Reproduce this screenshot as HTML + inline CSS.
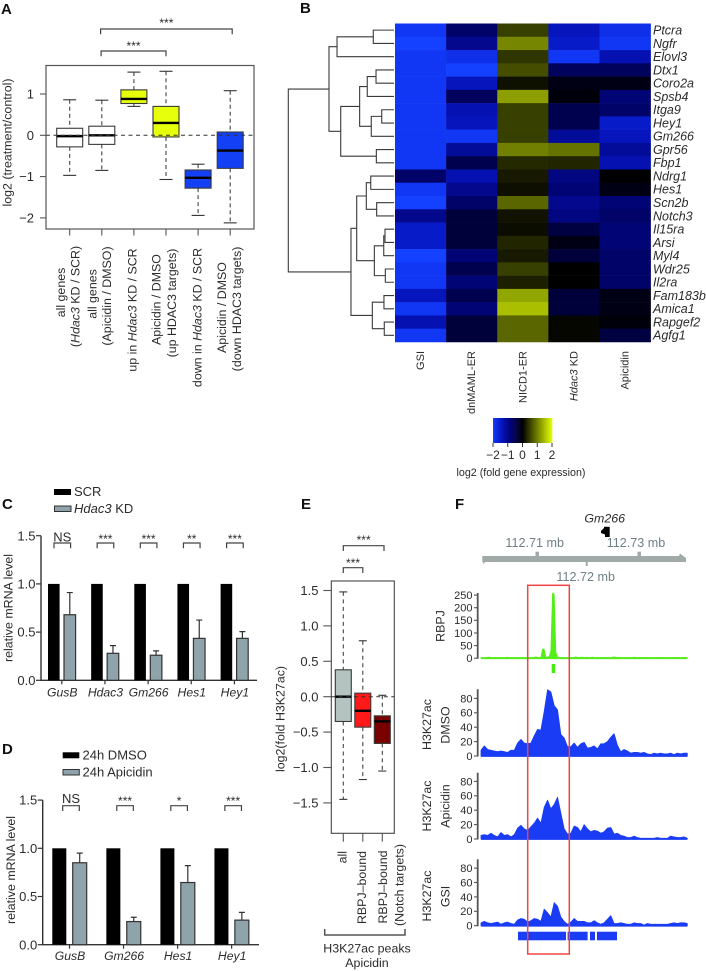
<!DOCTYPE html>
<html lang="en">
<head>
<meta charset="utf-8">
<title>Multi-panel figure</title>
<style>
html,body{margin:0;padding:0;background:#fff;width:706px;height:971px;overflow:hidden}
svg{display:block;filter:blur(0.3px)}
text{font-family:"Liberation Sans",sans-serif;fill:#2b2b2b}
.pl{font-size:15px;font-weight:bold;fill:#111}
.t12{font-size:12.4px}
.t13{font-size:13px}
.mb{font-size:12.6px;fill:#6f8088}
i,.it{font-style:italic}
</style>
</head>
<body>
<svg id="fig" xmlns="http://www.w3.org/2000/svg" width="706" height="971" viewBox="0 0 706 971">
<text class="pl" x="1" y="14">A</text>
<text class="pl" x="300" y="13">B</text>
<text class="pl" x="2" y="509">C</text>
<text class="pl" x="2" y="754">D</text>
<text class="pl" x="301" y="509">E</text>
<text class="pl" x="455" y="509">F</text>

<text class="t12" transform="translate(11.5 142.5) rotate(-90)" text-anchor="middle">log2 (treatment/control)</text>
<g class="t12" text-anchor="middle">
<text transform="translate(65 292.5) rotate(-90)">all genes</text>
<text transform="translate(79.3 296.5) rotate(-90)">(<tspan class="it">Hdac3</tspan> KD / SCR)</text>
<text transform="translate(96.7 294) rotate(-90)">all genes</text>
<text transform="translate(111 296) rotate(-90)">(Apicidin / DMSO)</text>
<text transform="translate(136.7 310) rotate(-90)">up in <tspan class="it">Hdac3</tspan> KD / SCR</text>
<text transform="translate(160.7 299.5) rotate(-90)">Apicidin / DMSO</text>
<text transform="translate(176 303) rotate(-90)">(up HDAC3 targets)</text>
<text transform="translate(201.7 317.5) rotate(-90)">down in <tspan class="it">Hdac3</tspan> KD / SCR</text>
<text transform="translate(226 307.5) rotate(-90)">Apicidin / DMSO</text>
<text transform="translate(241 309) rotate(-90)">(down HDAC3 targets)</text>
</g>

<text x="521" y="476" text-anchor="middle" font-size="10.7">log2 (fold gene expression)</text>

<rect x="54" y="489" width="17" height="6" fill="#000"/>
<text class="t13" x="74" y="496">SCR</text>
<rect x="54.5" y="506" width="16.5" height="5.5" fill="#8fa3aa" stroke="#333"/>
<text class="t13" x="74" y="513"><tspan class="it">Hdac3</tspan> KD</text>
<text class="t12" transform="translate(12.5 608) rotate(-90)" text-anchor="middle">relative mRNA level</text>

<rect x="62.7" y="752.3" width="16.6" height="6" fill="#000"/>
<text class="t13" x="82.5" y="759.5">24h DMSO</text>
<rect x="63" y="769.5" width="16.3" height="5.5" fill="#8fa3aa" stroke="#333"/>
<text class="t13" x="82.5" y="776.5">24h Apicidin</text>
<text class="t12" transform="translate(15 870) rotate(-90)" text-anchor="middle">relative mRNA level</text>

<text class="t12" transform="translate(284.5 719) rotate(-90)" text-anchor="middle">log2(fold H3K27ac)</text>
<text class="t12" transform="translate(346.7 851) rotate(-90)" text-anchor="end">all</text>
<text class="t12" transform="translate(366 851) rotate(-90)" text-anchor="end">RBPJ–bound</text>
<text class="t12" transform="translate(387 887) rotate(-90)" text-anchor="middle">RBPJ–bound</text>
<text class="t12" transform="translate(403.3 885) rotate(-90)" text-anchor="middle">(Notch targets)</text>
<path d="M324.7 929V935H405V929" fill="none" stroke="#555" stroke-width="1.5"/>
<text class="t12" x="367" y="952.7" text-anchor="middle">H3K27ac peaks</text>
<text class="t12" x="367" y="967" text-anchor="middle">Apicidin</text>

<text class="t12" transform="translate(444.5 626) rotate(-90)" text-anchor="middle">RBPJ</text>
<text class="t12" transform="translate(431 724.5) rotate(-90)" text-anchor="middle">H3K27ac</text>
<text class="t12" transform="translate(449.5 725) rotate(-90)" text-anchor="middle">DMSO</text>
<text class="t12" transform="translate(431 806) rotate(-90)" text-anchor="middle">H3K27ac</text>
<text class="t12" transform="translate(449.5 806) rotate(-90)" text-anchor="middle">Apicidin</text>
<text class="t12" transform="translate(431 896) rotate(-90)" text-anchor="middle">H3K27ac</text>
<text class="t12" transform="translate(449.5 896.5) rotate(-90)" text-anchor="middle">GSI</text>

<text class="t12 it" x="604.7" y="522.5" text-anchor="middle">Gm266</text>
<path d="M601 531L604 528V526.7H609.7V537H605V534.5L601 533Z" fill="#000"/>
<g>
<path d="M482.3 556H679L680 553.5L686 558V562H587.7V566H585.7V562H485L483.5 564L482.3 561Z" fill="#a0aba9"/>
<rect x="535.5" y="551.7" width="3.5" height="5" fill="#a0aba9"/>
<rect x="637.5" y="551.7" width="3.5" height="5" fill="#a0aba9"/>
<text class="mb" x="534.7" y="547.2" text-anchor="middle">112.71 mb</text>
<text class="mb" x="636" y="547.2" text-anchor="middle">112.73 mb</text>
<text class="mb" x="585.7" y="581.2" text-anchor="middle">112.72 mb</text>
</g>
<g id="g-a"></g>
<g id="g-b"></g>
<g id="g-c"></g>
<g id="g-d"></g>
<g id="g-e"></g>
<g id="g-f"></g>
</svg>

<script>
// ---- Panel A data ----
var boxATicks = [1, 0, -1, -2];
var boxAWhiskerHigh = [0.86, 0.85, 1.53, 1.55, -0.70, 1.08];
var boxAWhiskerLow = [-0.97, -0.85, 0.70, -1.07, -1.94, -2.12];
var boxAQ3 = [0.17, 0.22, 1.10, 0.70, -0.84, 0.08];
var boxAQ1 = [-0.28, -0.22, 0.77, -0.04, -1.28, -0.80];
var boxAMedian = [-0.02, 0.00, 0.88, 0.30, -1.03, -0.37];
var boxAColors = ["#ffffff", "#ffffff", "#e6ff0a", "#e6ff0a", "#1440f5", "#1440f5"];

// ---- Panel B data ----
var heatmapGenes = ["Ptcra","Ngfr","Elovl3","Dtx1","Coro2a","Spsb4","Itga9","Hey1","Gm266","Gpr56","Fbp1","Ndrg1","Hes1","Scn2b","Notch3","Il15ra","Arsi","Myl4","Wdr25","Il2ra","Fam183b","Amica1","Rapgef2","Agfg1"];
var heatmapConditions = ["GSI","dnMAML-ER","NICD1-ER","Hdac3 KD","Apicidin"];
var heatmapGSI = [-1.9,-2.0,-1.9,-1.9,-1.9,-1.9,-1.9,-1.9,-1.9,-1.9,-1.9,-0.7,-1.9,-2.0,-1.0,-1.5,-1.5,-2.0,-1.9,-1.9,-1.4,-1.9,-1.3,-1.9];
var heatmapDnMAML = [-0.7,-1.0,-1.8,-2.0,-1.4,-0.6,-1.3,-1.4,-1.9,-1.1,-0.5,-1.3,-1.0,-0.7,-0.35,-0.35,-0.35,-0.8,-0.5,-0.8,-0.5,-0.8,-0.35,-0.35];
var heatmapNICD1 = [0.5,1.05,0.42,0.6,0.13,1.25,0.5,0.5,0.5,1.0,0.32,0.2,0.12,0.8,0.15,0.1,0.3,0.2,0.5,0.25,1.3,1.5,0.8,0.8];
var heatmapHdac3 = [-1.4,-1.5,-1.9,-0.6,-0.1,-0.05,-0.5,-0.5,-1.1,0.9,0.3,-0.9,-0.8,-1.0,-0.9,-0.4,-0.1,-0.35,0,0,-0.35,-0.35,0.05,0.05];
var heatmapApicidin = [-1.8,-1.9,-1.3,-0.6,-0.1,-0.8,-0.7,-1.5,-1.4,-1.1,-1.3,0,-0.1,-0.8,-0.7,-0.8,-0.8,-0.7,-0.7,-0.7,-0.1,-0.1,-0.05,-0.4];
var colorbarTicks = [-2, -1, 0, 1, 2];
var dendrogramTree = [1.0,
  [0.615,[0.539,[0.196,0,1],2],[0.504,[0.325,[0.253,[0.17,3,4],5],[0.215,[0.116,6,7],8]],[0.167,9,10]]],
  [0.407,[0.353,[0.262,[0.22,11,12],[0.164,13,14]],[0.186,[0.097,[0.085,15,16],17],[0.082,18,19]]],[0.205,[0.095,20,21],[0.092,22,23]]]
];

// ---- Panel C data ----
var barCTicks = ["0.0", "0.5", "1.0", "1.5"];
var barCGenes = ["GusB", "Hdac3", "Gm266", "Hes1", "Hey1"];
var barCControl = [1, 1, 1, 1, 1];
var barCTreated = [0.68, 0.28, 0.26, 0.435, 0.435];
var barCError = [0.91, 0.36, 0.305, 0.625, 0.505];
var barCSig = ["NS", "***", "***", "**", "***"];

// ---- Panel D data ----
var barDGenes = ["GusB", "Gm266", "Hes1", "Hey1"];
var barDControl = [1, 1, 1, 1];
var barDTreated = [0.85, 0.24, 0.645, 0.255];
var barDError = [0.95, 0.285, 0.82, 0.335];
var barDSig = ["NS", "***", "*", "***"];

// ---- Panel E data ----
var boxETicks = [1.5, 1.0, 0.5, 0.0, -0.5, -1.0, -1.5];
var boxEWhiskerHigh = [1.48, 0.79, 0.02];
var boxEWhiskerLow = [-1.45, -1.17, -1.05];
var boxEQ3 = [0.38, 0.05, -0.27];
var boxEQ1 = [-0.35, -0.43, -0.66];
var boxEMedian = [0.0, -0.20, -0.35];
var boxEColors = ["#b3c4c0", "#ff1a1a", "#7a0000"];

// ---- Panel F data ----
var trackRBPJTicks = [0, 50, 100, 150, 200, 250];
var trackH3Ticks = [0, 20, 40, 60, 80];
var trackRBPJ = [2,3,2,2,3,4,3,2,3,2,3,2,3,2,2,3,4,2,3,2,3,2,2,3,2,3,2,2,3,2,3,2,3,5,3,2,3,36,34,3,5,6,30,258,252,24,4,3,2,3,2,2,3,2,3,2,3,5,3,2,3,4,2,3,3,2,3,4,3,2,3,2,3,3,2,3,2,3,2,4,5,3,3,2,3,2,3,2,2,3,2,3,4,3,2,3,2,3,2,3,2,3,2,3,2,2,3,2,3,2,3,2,3,2,2,3,2,3,2,3,2,2,3,3,2];
var trackDMSO = [8,14,9,8,7,6,7,6,5,8,8,18,23,18,17,18,28,37,36,62,92,89,70,64,30,25,13,13,18,12,17,19,11,12,14,10,17,17,20,26,31,15,6,9,7,4,5,5,4,5,3,2,4,3,4,3,3,4,2,4,3,4,4];
var trackApicidin = [5,6,5,8,5,3,9,5,6,3,6,15,19,14,12,17,22,29,22,44,54,42,48,58,36,14,7,8,18,16,10,20,14,10,12,11,8,10,15,16,7,8,5,4,2,2,4,2,1,1,1,1,1,2,1,1,1,4,3,2,2,3,1];
var trackGSI = [4,6,4,3,4,5,2,4,5,3,2,8,10,9,5,7,10,9,6,23,18,12,32,27,12,6,2,5,10,6,6,6,4,4,7,4,2,4,9,14,3,3,4,3,2,2,4,3,3,1,3,2,2,2,2,2,2,3,4,3,4,4,3];
var peakStartKb = [0, 24.8, 36, 39.5];
var peakEndKb = [24, 34.8, 38.5, 49.5];

// ---- helpers ----
var NS = "http://www.w3.org/2000/svg";
function add(parent, tag, attrs, txt) {
  var e = document.createElementNS(NS, tag);
  for (var k in attrs) e.setAttribute(k, attrs[k]);
  if (txt !== undefined) e.textContent = txt;
  parent.appendChild(e);
  return e;
}
function bracket(parent, x1, x2, y, sig, ty, nsY) {
  var p = add(parent, "path", {d: "M" + x1 + " " + (y + 5.3) + "V" + y + "H" + x2 + "V" + (y + 5.3), fill: "none", stroke: "#444", "stroke-width": 1.2});
  
  
  var isNS = sig === "NS";
  var t = add(parent, "text", {x: (x1 + x2) / 2, y: isNS ? nsY : ty, "text-anchor": "middle", "font-size": isNS ? 13 : 12}, sig);
  
  
}
function fmtTick(v) {
  return (v < 0 ? "\u2212" : "") + Math.abs(v);
}
function boxplot(g, xf, yf, halfW, hi, lo, q3, q1, med, cols, capW, dash) {
  for (var i = 0; i < med.length; i++) {
    var x = xf(i);
    var w1 = add(g, "line", {x1: x, x2: x, y1: yf(hi[i]), y2: yf(q3[i]), stroke: "#444", "stroke-width": 1.1, "stroke-dasharray": dash});
    
    
    var w2 = add(g, "line", {x1: x, x2: x, y1: yf(q1[i]), y2: yf(lo[i]), stroke: "#444", "stroke-width": 1.1, "stroke-dasharray": dash});
    
    
    var c1 = add(g, "line", {x1: x - capW, x2: x + capW, y1: yf(hi[i]), y2: yf(hi[i]), stroke: "#333", "stroke-width": 1.1});
    
    
    var c2 = add(g, "line", {x1: x - capW, x2: x + capW, y1: yf(lo[i]), y2: yf(lo[i]), stroke: "#333", "stroke-width": 1.1});
    
    
    var b = add(g, "rect", {x: x - halfW, y: yf(q3[i]), width: halfW * 2, height: yf(q1[i]) - yf(q3[i]), fill: cols[i], stroke: "#3a3a3a", "stroke-width": 1.1});
    
    
    var m = add(g, "line", {x1: x - halfW, x2: x + halfW, y1: yf(med[i]), y2: yf(med[i]), stroke: "#000", "stroke-width": 2.4});
    
    
  }
}

// ---- Panel A ----
(function () {
  var g = document.getElementById("g-a");
  var yA = function (v) { return 135.3 - 41.3 * v; };
  var xA = function (i) { return 69.7 + 32.1 * i; };
  var frame = add(g, "rect", {x: 46, y: 65.5, width: 208, height: 163.5, fill: "#fff", stroke: "#555", "stroke-width": 1.2});
  
  
  boxATicks.forEach(function (v) {
    var t = add(g, "line", {x1: 40, x2: 46, y1: yA(v), y2: yA(v), stroke: "#555", "stroke-width": 1.1});
    
    
    var l = add(g, "text", {x: 34, y: yA(v) + 4.6, "text-anchor": "end", "font-size": 13}, fmtTick(v));
    
    
  });
  boxAMedian.forEach(function (m, i) {
    var t = add(g, "line", {x1: xA(i), x2: xA(i), y1: 229, y2: 235.5, stroke: "#555", "stroke-width": 1.1});
    
    
  });
  boxplot(g, xA, yA, 13, boxAWhiskerHigh, boxAWhiskerLow, boxAQ3, boxAQ1, boxAMedian, boxAColors, 6.5, "4 3");
  var z = add(g, "line", {x1: 46, x2: 254, y1: yA(0), y2: yA(0), stroke: "#333", "stroke-width": 1, "stroke-dasharray": "4 3.5"});
  
  
  bracket(g, xA(1) - 1.2, xA(5) + 2, 29, "***", 27);
  bracket(g, xA(1) - 0.7, xA(3), 51, "***", 50);
})();

// ---- Panel B ----
(function () {
  var g = document.getElementById("g-b");
  var rowY = function (r) { return 23.5 + 13.27 * r; };
  var colX = function (c) { return 395 + 51.12 * c; };
  var leafX = 394;
  var treeX = function (h) { return leafX - 105.7 * h; };
  var color = function (v) {
    var t = Math.min(1, Math.abs(v) / 2);
    if (v < 0) return "rgb(" + Math.round(20 * Math.pow(t, 3)) + "," + Math.round(64 * Math.pow(t, 3)) + "," + Math.round(255 * Math.pow(t, 0.85)) + ")";
    return "rgb(" + Math.round(225 * t) + "," + Math.round(255 * t) + ",0)";
  };
  var columns = [heatmapGSI, heatmapDnMAML, heatmapNICD1, heatmapHdac3, heatmapApicidin];
  columns.forEach(function (col, c) {
    col.forEach(function (v, r) {
      var cell = add(g, "rect", {x: colX(c), y: rowY(r), width: 51.4, height: 13.55, fill: color(v)});
      
      
    });
  });
  heatmapGenes.forEach(function (name, r) {
    var t = add(g, "text", {x: 653, y: rowY(r) + 11, "font-size": 12.5, "font-style": "italic"}, name);
    
    
  });
  heatmapConditions.forEach(function (name, c) {
    var cx = colX(c) + 25.6 + 3.5;
    var t = add(g, "text", {transform: "translate(" + cx + " 351) rotate(-90)", "text-anchor": "end", "font-size": 11});
    if (name === "Hdac3 KD") {
      var ts = add(t, "tspan", {"font-style": "italic"}, "Hdac3");
      
      
      t.appendChild(document.createTextNode(" KD"));
    } else {
      t.textContent = name;
    }
    
    
  });
  function draw(node) {
    if (typeof node === "number") return {x: leafX, y: rowY(node) + 6.63};
    var a = draw(node[1]);
    var b = draw(node[2]);
    var x = treeX(node[0]);
    var p = add(g, "path", {d: "M" + a.x + " " + a.y + "H" + x + "V" + b.y + "H" + b.x, fill: "none", stroke: "#3a3a3a", "stroke-width": 1.1});
    
    
    return {x: x, y: (a.y + b.y) / 2};
  }
  draw(dendrogramTree);
  var barX = function (v) { return 522.5 + 14.75 * v; };
  for (var k = 0; k < 60; k++) {
    var v0 = -2 + k * 4 / 60;
    var s = add(g, "rect", {x: barX(v0), y: 418, width: 1.3, height: 25, fill: color(v0 + 2 / 60)});
    
    
  }
  colorbarTicks.forEach(function (v) {
    var t = add(g, "line", {x1: barX(v), x2: barX(v), y1: 443, y2: 447, stroke: "#333"});
    
    
    var l = add(g, "text", {x: barX(v), y: 459, "text-anchor": "middle", "font-size": 12}, fmtTick(v));
    
    
  });
})();

// ---- Panels C & D ----
function barPanel(g, cfg, genes, control, treated, error, sig) {
  var yf = function (v) { return cfg.y0 - cfg.k * v; };
  var xC = function (i) { return cfg.x0 + cfg.dx * i; };
  var ax = add(g, "path", {d: "M" + cfg.axX + " " + yf(1.5) + "V" + yf(0) + "H" + cfg.axEnd, fill: "none", stroke: "#333", "stroke-width": 1.4});
  
  
  barCTicks.forEach(function (lab) {
    var v = parseFloat(lab);
    var t = add(g, "line", {x1: cfg.axX - 5, x2: cfg.axX, y1: yf(v), y2: yf(v), stroke: "#333", "stroke-width": 1.2});
    
    
    var l = add(g, "text", {x: cfg.axX - 5.5, y: yf(v) + 4.6, "text-anchor": "end", "font-size": 13}, lab);
    
    
  });
  genes.forEach(function (name, i) {
    var x = xC(i);
    var b = add(g, "rect", {x: x - cfg.gap - cfg.w, y: yf(control[i]), width: cfg.w, height: yf(0) - yf(control[i]), fill: "#000"});
    
    
    var e = add(g, "path", {d: "M" + (x + cfg.gap + cfg.w / 2) + " " + yf(treated[i]) + "V" + yf(error[i]) + "m-3 0h6", fill: "none", stroke: "#333", "stroke-width": 1.2});
    
    
    var b2 = add(g, "rect", {x: x + cfg.gap, y: yf(treated[i]), width: cfg.w, height: yf(0) - yf(treated[i]), fill: "#8fa3aa", stroke: "#333", "stroke-width": 1.2});
    
    
    var t = add(g, "line", {x1: x, x2: x, y1: yf(0), y2: yf(0) + 4, stroke: "#333", "stroke-width": 1.2});
    
    
    var l = add(g, "text", {x: x + 0.5, y: cfg.labY, "text-anchor": "middle", "font-size": 12.2, "font-style": "italic"}, name);
    
    
    bracket(g, x + cfg.brOff - 8.3, x + cfg.brOff + 8.3, cfg.brY, sig[i], cfg.starY, cfg.nsY);
  });
}
barPanel(document.getElementById("g-c"), {y0: 680.3, k: 96.4, x0: 61.8, dx: 43.15, axX: 41, axEnd: 257, gap: 2.2, w: 11.6, labY: 696.7, brOff: 0.5, brY: 543, starY: 543, nsY: 541.5}, barCGenes, barCControl, barCTreated, barCError, barCSig);
barPanel(document.getElementById("g-d"), {y0: 944.7, k: 96.4, x0: 69.5, dx: 54.05, axX: 42.7, axEnd: 259, gap: 3.2, w: 14, labY: 960, brOff: 1.5, brY: 805.7, starY: 805, nsY: 803}, barDGenes, barDControl, barDTreated, barDError, barDSig);

// ---- Panel E ----
(function () {
  var g = document.getElementById("g-e");
  var yE = function (v) { return 696.7 - 70.8 * v; };
  var xE = function (i) { return 343.3 + 19.5 * i; };
  var frame = add(g, "rect", {x: 331.3, y: 581, width: 63, height: 252.3, fill: "#fff", stroke: "#444", "stroke-width": 1.1});
  
  
  boxETicks.forEach(function (v) {
    var t = add(g, "line", {x1: 323.3, x2: 331.3, y1: yE(v), y2: yE(v), stroke: "#555", "stroke-width": 1.1});
    
    
    var l = add(g, "text", {x: 318.5, y: yE(v) + 4.6, "text-anchor": "end", "font-size": 13}, (v < 0 ? "\u2212" : "") + Math.abs(v).toFixed(1));
    
    
  });
  boxEMedian.forEach(function (m, i) {
    var t = add(g, "line", {x1: xE(i), x2: xE(i), y1: 833.3, y2: 841.7, stroke: "#555", "stroke-width": 1.1});
    
    
  });
  boxplot(g, xE, yE, 8, boxEWhiskerHigh, boxEWhiskerLow, boxEQ3, boxEQ1, boxEMedian, boxEColors, 4, "4 3.5");
  var z = add(g, "line", {x1: 331.3, x2: 394.3, y1: yE(0), y2: yE(0), stroke: "#333", "stroke-width": 1, "stroke-dasharray": "4 3.5"});
  
  
  bracket(g, xE(0), xE(2) + 1.7, 545.7, "***", 544);
  bracket(g, xE(0), xE(1), 567.7, "***", 567);
})();

// ---- Panel F ----
(function () {
  var g = document.getElementById("g-f");
  var left = 481, width = 206.3;
  function track(values, y0, k, color, ticks, axisTop, tickFont, name) {
    var xT = function (i) { return left + i * width / (values.length - 1); };
    var yT = function (v) { return y0 - k * v; };
    var d = "M" + xT(0) + " " + y0;
    values.forEach(function (v, i) { d += "L" + xT(i).toFixed(2) + " " + yT(v).toFixed(2); });
    d += "L" + xT(values.length - 1) + " " + y0 + "Z";
    var a = add(g, "path", {d: d, fill: color, stroke: color, "stroke-width": 0.8, "stroke-linejoin": "round"});
    
    
    var base = add(g, "line", {x1: left, x2: left + width, y1: y0, y2: y0, stroke: color, "stroke-width": 1.8});
    
    
    var ax = add(g, "line", {x1: 477.7, x2: 477.7, y1: axisTop, y2: y0 + 0.5, stroke: "#555", "stroke-width": 1.8});
    
    
    ticks.forEach(function (v) {
      var t = add(g, "line", {x1: 474, x2: 477.7, y1: yT(v), y2: yT(v), stroke: "#555", "stroke-width": 1.1});
      
      
      var l = add(g, "text", {x: 472.5, y: yT(v) + 3.9, "text-anchor": "end", "font-size": tickFont}, String(v));
      
      
    });
  }
  track(trackRBPJ, 658.2, 0.2524, "#55ee1a", trackRBPJTicks, 593, 11, "rbpj-track");
  var mark = add(g, "rect", {x: 551.7, y: 664, width: 3.4, height: 9, fill: "#44ee11"});
  
  
  track(trackDMSO, 756, 0.72, "#1a3cf5", trackH3Ticks, 689.3, 11, "dmso-track");
  track(trackApicidin, 839, 0.72, "#1a3cf5", trackH3Ticks, 772.7, 11, "apicidin-track");
  track(trackGSI, 925.7, 0.72, "#1a3cf5", trackH3Ticks, 859.3, 11, "gsi-track");
  var kbX = function (kb) { return 518 + 2 * kb; };
  peakStartKb.forEach(function (s, i) {
    var r = add(g, "rect", {x: kbX(s), y: 931.7, width: kbX(peakEndKb[i]) - kbX(s), height: 8.6, fill: "#1a3cf5"});
    
    
  });
  var red = add(g, "rect", {x: 527.7, y: 585.3, width: 41.6, height: 368.7, fill: "none", stroke: "#f04545", "stroke-width": 1.5});
  
  
})();
</script>
</body>
</html>
